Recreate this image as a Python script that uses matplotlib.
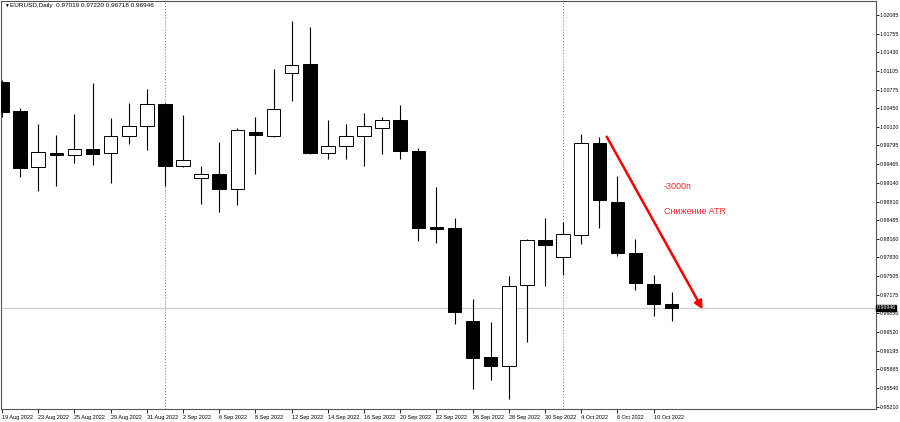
import numpy as np
import matplotlib
matplotlib.use('Agg')
import matplotlib.pyplot as plt

plt.rcParams['font.family'] = ['Liberation Sans', 'DejaVu Sans']

# === Данные EURUSD, Daily ===
dates = ['19 Aug 2022', '22 Aug 2022', '23 Aug 2022', '24 Aug 2022', '25 Aug 2022',
         '26 Aug 2022', '29 Aug 2022', '30 Aug 2022', '31 Aug 2022', '1 Sep 2022',
         '2 Sep 2022', '5 Sep 2022', '6 Sep 2022', '7 Sep 2022', '8 Sep 2022',
         '9 Sep 2022', '12 Sep 2022', '13 Sep 2022', '14 Sep 2022', '15 Sep 2022',
         '16 Sep 2022', '19 Sep 2022', '20 Sep 2022', '21 Sep 2022', '22 Sep 2022',
         '23 Sep 2022', '26 Sep 2022', '27 Sep 2022', '28 Sep 2022', '29 Sep 2022',
         '30 Sep 2022', '3 Oct 2022', '4 Oct 2022', '5 Oct 2022', '6 Oct 2022',
         '7 Oct 2022', '10 Oct 2022', '11 Oct 2022']
opens = [1.0091, 1.0040, 0.9941, 0.9967, 0.9962, 0.9973, 0.9966, 0.9996, 1.0013, 1.0052,
         0.9943, 0.9922, 0.9929, 0.9904, 1.0004, 0.9997, 1.0106, 1.0122, 0.9967, 0.9978,
         0.9997, 1.0010, 1.0024, 0.9969, 0.9836, 0.9834, 0.9671, 0.9608, 0.9592, 0.9734,
         0.9814, 0.9784, 0.9823, 0.9983, 0.9880, 0.9790, 0.9736, 0.97019]
highs = [1.0094, 1.0046, 1.0017, 0.9998, 1.0034, 1.0089, 1.0028, 1.0054, 1.0079, 1.0054,
         1.0033, 0.9943, 0.9986, 1.0010, 1.0029, 1.0113, 1.0198, 1.0187, 1.0024, 1.0017,
         1.0036, 1.0029, 1.0050, 0.9975, 0.9907, 0.9852, 0.9710, 0.9670, 0.9750, 0.9815,
         0.9853, 0.9846, 0.9999, 0.9994, 0.9926, 0.9816, 0.9752, 0.97220]
lows = [1.0030, 0.9925, 0.9900, 0.9908, 0.9948, 0.9945, 0.9914, 0.9982, 0.9971, 0.9908,
        0.9942, 0.9877, 0.9863, 0.9875, 0.9929, 0.9994, 1.0058, 0.9965, 0.9955, 0.9955,
        0.9944, 0.9965, 0.9955, 0.9812, 0.9808, 0.9667, 0.9552, 0.9568, 0.9535, 0.9635,
        0.9733, 0.9752, 0.9806, 0.9834, 0.9786, 0.9725, 0.9681, 0.96718]
closes = [1.0038, 0.9940, 0.9968, 0.9962, 0.9973, 0.9964, 0.9997, 1.0013, 1.0052, 0.9943,
          0.9954, 0.9930, 0.9904, 1.0006, 0.9998, 1.0043, 1.0120, 0.9966, 0.9979, 0.9997,
          1.0014, 1.0024, 0.9969, 0.9835, 0.9833, 0.9687, 0.9606, 0.9593, 0.9733, 0.9814,
          0.9804, 0.9824, 0.9983, 0.9883, 0.9790, 0.9738, 0.9701, 0.96946]

price_ticks = [1.02085, 1.01755, 1.01430, 1.01105, 1.00775, 1.00450, 1.00120, 0.99795,
               0.99465, 0.99140, 0.98810, 0.98485, 0.98160, 0.97830, 0.97505, 0.97175,
               0.96850, 0.96520, 0.96195, 0.95865, 0.95540, 0.95210]
last_price = 0.96946
separators = [9, 31]  # начало месяца (1 Sep, 3 Oct)

# === График ===
fig = plt.figure(figsize=(9, 4.22), dpi=100)
ax = fig.add_axes([1 / 900, 13 / 422, 875 / 900, 408 / 422])

x = np.arange(len(dates))
o = np.array(opens)
c = np.array(closes)
up = c >= o

ax.vlines(x, lows, highs, color='black', lw=0.8, zorder=2)
ax.bar(x, np.abs(c - o), bottom=np.minimum(o, c), width=0.75,
       color=np.where(up, 'white', 'black'), edgecolor='black', lw=0.7, zorder=3)

for s in separators:
    ax.axvline(s, color='#707070', lw=0.7, ls=(0, (1, 2)), zorder=1)
ax.axhline(last_price, color='#cccccc', lw=0.8, zorder=1)

# стрелка и подписи
ax.annotate('', xy=(38.71, 0.96919), xytext=(33.41, 0.99949),
            arrowprops=dict(arrowstyle='-|>', color='#ff0000', lw=1.8,
                            mutation_scale=12, shrinkA=0, shrinkB=0), zorder=5)
ax.text(36.55, 0.99083, '-3000п', color='#ff2a2a', fontsize=6.5, va='center', ha='left')
ax.text(36.55, 0.98632, 'Снижение ATR', color='#ff2a2a', fontsize=6.5, va='center', ha='left')

ax.set_xlim(-0.06, 48.29)
ax.set_ylim(0.95170, 1.02331)

ax.set_xticks(x[::2])
ax.set_xticklabels(dates[::2], fontsize=4, ha='left')
ax.tick_params(axis='x', length=3, width=0.6, pad=1.5, direction='out')

ax.yaxis.tick_right()
ax.set_yticks(price_ticks)
ax.set_yticklabels([f'{p:.5f}' for p in price_ticks], fontsize=3.8)
ax.tick_params(axis='y', length=2, width=0.6, pad=0.8)

for sp in ax.spines.values():
    sp.set_color('#555555')
    sp.set_linewidth(0.8)

# метка текущей цены
ax.text(1.0005, last_price, f'{last_price:.5f}', transform=ax.get_yaxis_transform(),
        fontsize=3.8, color='white', va='center', ha='left',
        bbox=dict(boxstyle='square,pad=0.15', fc='black', ec='black'), zorder=6)

fig.text(4 / 900, 1 - 5.5 / 422, '▼', fontsize=3.5, va='center', ha='left')
fig.text(10 / 900, 1 - 5.5 / 422, 'EURUSD,Daily  0.97019 0.97220 0.96718 0.96946',
         fontsize=4.6, va='center', ha='left')

fig.savefig('out.png', dpi=100, facecolor='white')
